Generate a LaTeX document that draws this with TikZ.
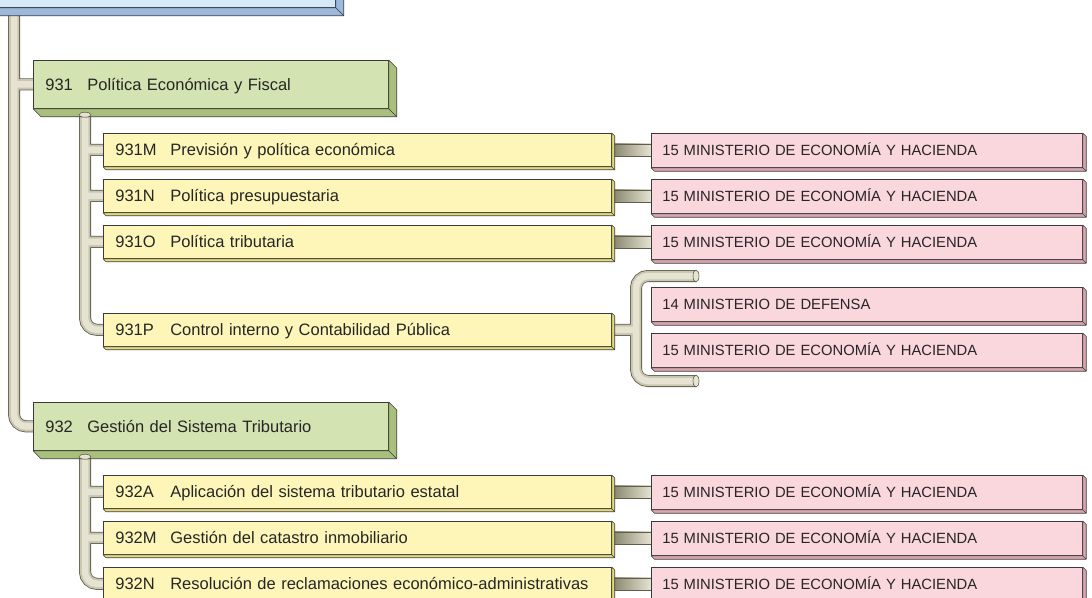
\documentclass[tikz,border=0pt]{standalone}
\usepackage{fontspec}
\setmainfont{Liberation Sans}
\usetikzlibrary{calc,backgrounds}

\definecolor{boxline}{HTML}{3A3A3A}
\definecolor{txt}{HTML}{262626}
\definecolor{blface}{HTML}{D6E9F8}
\definecolor{blside}{HTML}{9CB8DD}
\definecolor{grface}{HTML}{D3E3B1}
\definecolor{grside}{HTML}{A8C07B}
\definecolor{ylface}{HTML}{FDF6B8}
\definecolor{ylside}{HTML}{E6D978}
\definecolor{pkface}{HTML}{FAD6DD}
\definecolor{pkside}{HTML}{D9A6B0}
\definecolor{pipeline}{HTML}{5F5D4C}
\definecolor{pipemid}{HTML}{C9C6AF}
\definecolor{pipelight}{HTML}{E6E3D3}
\definecolor{conndark}{HTML}{85846A}

% code of a programme in a box of fixed width
\newcommand\prog[2]{\makebox[#1][l]{#2}}

% the slanted side and bottom of a box
\newcommand\extrude[3]{%
  \filldraw[fill=#2, draw=boxline, line width=0.6pt, line join=bevel]
    (#1.north east) -- ++(#3,#3) -- ([shift={(#3,#3)}]#1.south east)
    -- ([shift={(#3,#3)}]#1.south west) -- (#1.south west)
    -- (#1.south east) -- cycle;
  \draw[boxline, line width=0.4pt] (#1.south east) -- ++(#3,#3);}

% a pipe: edges first, then body, then shine
\newcommand\pipe[1]{%
  \draw[pipeedge] #1;
  \draw[pipebody] #1;
  \draw[pipeshine] #1;}

\begin{document}
\begin{tikzpicture}[x=1pt,y=-1pt,
  box/.style={draw=boxline, line width=0.7pt, anchor=north west,
    inner xsep=12pt, inner ysep=0pt, text height=13pt, text depth=1pt,
    align=left, text=txt, font=\fontsize{16.5}{18}\selectfont},
  blbox/.style={box, fill=blface, minimum width=365pt, minimum height=67pt},
  grbox/.style={box, fill=grface, minimum height=48pt, text width=331pt},
  ylbox/.style={box, fill=ylface, minimum height=33pt, text width=484pt},
  pkbox/.style={box, fill=pkface, minimum height=34pt, text width=409pt,
    inner xsep=11pt, text height=11.6pt, text depth=1pt,
    font=\fontsize{14.8}{17}\selectfont},
  pipeedge/.style={draw=pipeline, line width=12pt, rounded corners=12pt},
  pipebody/.style={draw=pipemid, line width=10.4pt, rounded corners=12pt},
  pipeshine/.style={draw=pipelight, line width=6.5pt, rounded corners=12pt},
  conn/.style={left color=conndark, right color=pipelight, draw=pipeline,
    line width=0.6pt},
  pipecap/.style={fill=pipelight, draw=pipeline, line width=0.6pt}]

\clip (0,0) rectangle (1092,597);

% boxes (faces)
\node[blbox] (top) at (-30,-60) {};
\node[grbox] (g931) at (33,60) {\prog{42pt}{931}Política Económica y Fiscal};
\node[grbox] (g932) at (33,402) {\prog{42pt}{932}Gestión del Sistema Tributario};

\node[ylbox] (m) at (103,133) {\prog{55pt}{931M}Previsión y política económica};
\node[ylbox] (n) at (103,179) {\prog{55pt}{931N}Política presupuestaria};
\node[ylbox] (o) at (103,225) {\prog{55pt}{931O}Política tributaria};
\node[ylbox] (p) at (103,313) {\prog{55pt}{931P}Control interno y Contabilidad Pública};
\node[ylbox] (a) at (103,475) {\prog{55pt}{932A}Aplicación del sistema tributario estatal};
\node[ylbox] (mm) at (103,521) {\prog{55pt}{932M}Gestión del catastro inmobiliario};
\node[ylbox] (nn) at (103,567) {\prog{55pt}{932N}Resolución de reclamaciones económico-administrativas};

\node[pkbox] (pm) at (651,133) {15 MINISTERIO DE ECONOMÍA Y HACIENDA};
\node[pkbox] (pn) at (651,179) {15 MINISTERIO DE ECONOMÍA Y HACIENDA};
\node[pkbox] (po) at (651,225) {15 MINISTERIO DE ECONOMÍA Y HACIENDA};
\node[pkbox] (pd) at (651,287) {14 MINISTERIO DE DEFENSA};
\node[pkbox] (pe) at (651,333) {15 MINISTERIO DE ECONOMÍA Y HACIENDA};
\node[pkbox] (pa) at (651,475) {15 MINISTERIO DE ECONOMÍA Y HACIENDA};
\node[pkbox] (pmm) at (651,521) {15 MINISTERIO DE ECONOMÍA Y HACIENDA};
\node[pkbox] (pnn) at (651,567) {15 MINISTERIO DE ECONOMÍA Y HACIENDA};

% boxes (sides)
\extrude{top}{blside}{8}
\extrude{g931}{grside}{8}
\extrude{g932}{grside}{8}
\foreach \b in {m,n,o,p,a,mm,nn}
  \extrude{\b}{ylside}{3};
\foreach \b in {pm,pn,po,pd,pe,pa,pmm,pnn}
  \extrude{\b}{pkside}{3.5};

\coordinate (trunk) at (14,0);
\coordinate (sub1) at (85,0);
\coordinate (sub2) at (85,0);
\coordinate (brk) at (636,0);
\coordinate (bt) at (696,276);
\coordinate (bb) at (696,381);

% pipes, behind the boxes
\begin{pgfonlayer}{background}
\pipe{(trunk |- top.south) |- (g932.west)
  (trunk |- g931.west) -- (g931.west)
  (sub1 |- g931.south) |- (p.west)
  (sub1 |- m.west) -- (m.west)
  (sub1 |- n.west) -- (n.west)
  (sub1 |- o.west) -- (o.west)
  (sub2 |- g932.south) |- (nn.west)
  (sub2 |- a.west) -- (a.west)
  (sub2 |- mm.west) -- (mm.west)
  (p.east) -- (brk |- p.east)
  (bt) -| (brk |- bb) -- (bb)}
\foreach \y/\z in {m/pm, n/pn, o/po, a/pa, mm/pmm, nn/pnn}
  \shadedraw[conn] ([yshift=6pt]\y.east) rectangle ([yshift=-6pt]\z.west);
\end{pgfonlayer}

% round ends of the pipes
\filldraw[pipecap] ($(sub1 |- g931.south)+(0,6)$) ellipse (6 and 2.5);
\filldraw[pipecap] ($(sub2 |- g932.south)+(0,6)$) ellipse (6 and 2.5);
\filldraw[pipecap] (bt) ellipse (3 and 6);
\filldraw[pipecap] (bb) ellipse (3 and 6);

\end{tikzpicture}
\end{document}
